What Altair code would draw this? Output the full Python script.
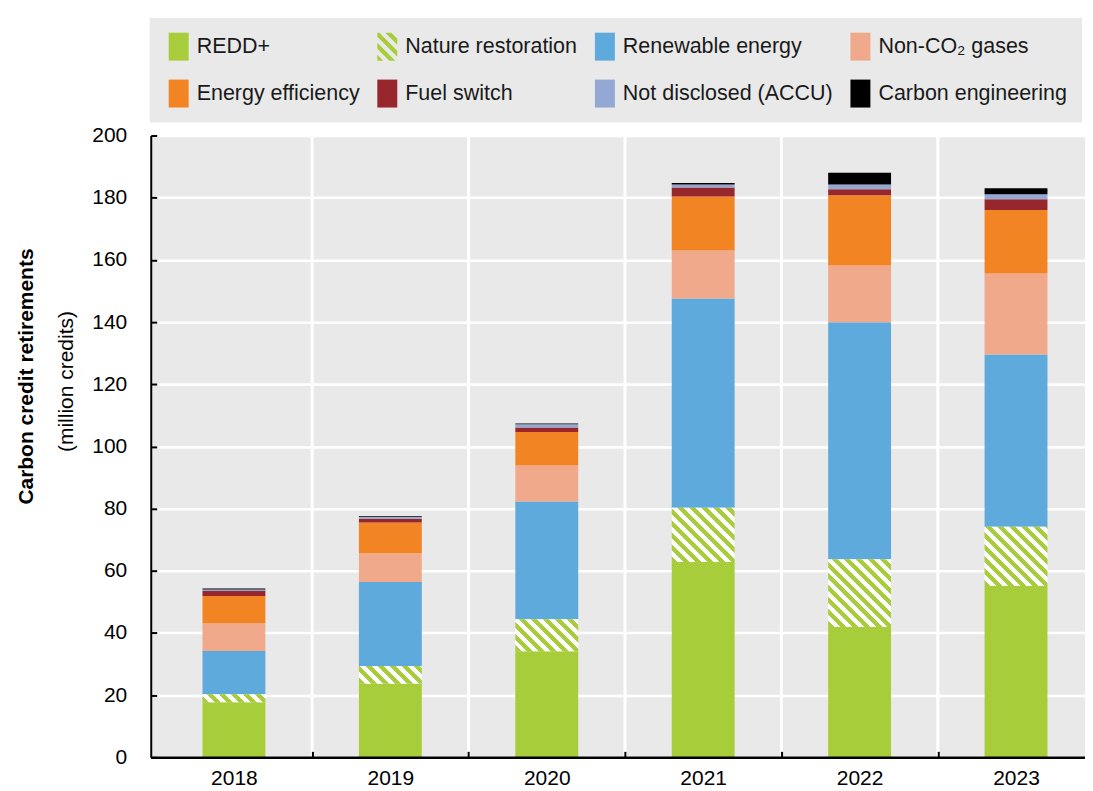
import altair as alt
import pandas as pd

# ---------------- data ----------------
years = [2018, 2019, 2020, 2021, 2022, 2023]
categories = ["REDD+", "Nature restoration", "Renewable energy", "Non-CO₂ gases",
              "Energy efficiency", "Fuel switch", "Not disclosed (ACCU)", "Carbon engineering"]
redd = [17.7, 23.7, 34.1, 62.8, 41.9, 55.1]
nature = [2.6, 5.7, 10.3, 17.5, 21.8, 19.1]
renewable = [13.9, 27.0, 37.9, 67.3, 76.2, 55.4]
non_co2 = [8.9, 9.2, 11.6, 15.4, 18.3, 26.0]
energy_eff = [8.8, 9.9, 10.7, 17.4, 22.6, 20.4]
fuel_switch = [1.6, 1.2, 1.5, 2.9, 1.9, 3.5]
not_disclosed = [0.5, 0.6, 1.0, 0.9, 1.5, 1.6]
carbon_eng = [0.3, 0.2, 0.3, 0.5, 3.8, 1.9]
boundaries = [2018.5, 2019.5, 2020.5, 2021.5, 2022.5]
y_ticks = [0, 20, 40, 60, 80, 100, 120, 140, 160, 180, 200]

series = [redd, nature, renewable, non_co2, energy_eff, fuel_switch, not_disclosed, carbon_eng]
rows = []
for i, yr in enumerate(years):
    base = 0.0
    for j, cat in enumerate(categories):
        v = series[j][i]
        rows.append(dict(year=yr, category=cat, order=j, value=v, y0=base, y1=base + v))
        base += v
df = pd.DataFrame(rows)

# ---------------- style ----------------
GREEN = "#a8cd3a"
colors = [GREEN, GREEN, "#5eaadd", "#f1a98b", "#f38423", "#98272d", "#93a8d2", "#000000"]
FONT = "Liberation Sans, Arial, sans-serif"
FS = 21
W, H = 936, 623
STEP = 158.4
BAR = 63
x_domain = [2017.5, 2017.5 + W / STEP]
xscale = alt.Scale(domain=x_domain, nice=False, zero=False)
yscale = alt.Scale(domain=[0, 200], nice=False)
cscale = alt.Scale(domain=categories, range=colors)
solid_cats = [c for k, c in enumerate(categories) if k != 1]
solid_cols = [c for k, c in enumerate(colors) if k != 1]
fscale = alt.Scale(domain=solid_cats, range=solid_cols)


def stripe_gradient(w, h, period=12.0, green_frac=0.5):
    L = w + h
    k = L / (w * w + h * h)
    stops = []
    pos, green = 0.0, True
    while pos < L - 1e-9:
        seg = period * (green_frac if green else 1 - green_frac)
        nxt = min(pos + seg, L)
        c = GREEN if green else "#ffffff"
        stops.append(alt.GradientStop(offset=round(pos / L, 5), color=c))
        stops.append(alt.GradientStop(offset=round(nxt / L, 5), color=c))
        pos, green = nxt, not green
    return alt.LinearGradient(gradient="linear", stops=stops,
                              x1=0, y1=1, x2=round(k * w, 5), y2=round(1 - k * h, 5))


def clip_half(poly, s, c):
    out = []
    n = len(poly)
    for i in range(n):
        P, Q = poly[i], poly[(i + 1) % n]
        fp = s * (P[0] - P[1]) - c
        fq = s * (Q[0] - Q[1]) - c
        if fp >= 0:
            out.append(P)
        if (fp >= 0) != (fq >= 0):
            t = fp / (fp - fq)
            out.append((P[0] + t * (Q[0] - P[0]), P[1] + t * (Q[1] - P[1])))
    return out


hw = 0.714
rect_path = f"M{-hw},-1H{hw}V1H{-hw}Z"
period_u = 12.0 / 14.0
parts = []
a = -hw - 1.0
while a < hw + 1.0:
    poly = [(-hw, -1.0), (hw, -1.0), (hw, 1.0), (-hw, 1.0)]
    poly = clip_half(poly, 1, a)
    poly = clip_half(poly, -1, -(a + period_u / 2))
    if len(poly) >= 3:
        parts.append("M" + "L".join(f"{p[0]:.3f},{p[1]:.3f}" for p in poly) + "Z")
    a += period_u
nature_path = "".join(parts)
shape_range = [rect_path, nature_path] + [rect_path] * 6

# ---------------- axes ----------------
x_label_axis = alt.Axis(orient="bottom", values=years, format="d", ticks=False, grid=False,
                        domain=True, domainColor="black", domainWidth=2.5, labelFlush=False,
                        labelOverlap=False, labelPadding=10, labelFontSize=FS, labelColor="black",
                        title=None, zindex=1)
x_tick_axis = alt.Axis(orient="bottom", values=boundaries, offset=-6, ticks=True, tickSize=6,
                       tickWidth=2, tickColor="black", domain=False, labels=False, grid=False,
                       title=None, zindex=1)
y_main_axis = alt.Axis(orient="left", values=y_ticks, ticks=False, grid=True, gridColor="white",
                       gridWidth=2.5, domain=True, domainColor="black", domainWidth=2,
                       labelPadding=24, labelFontSize=FS, labelColor="black",
                       title="(million credits)", titleFontWeight="normal", titleFontSize=FS,
                       titleColor="black", titleX=-84, titleY=246, titleBaseline="middle",
                       titleAlign="center", titleAngle=-90)
y_tick_axis = alt.Axis(orient="left", values=y_ticks, offset=-6, ticks=True, tickSize=6,
                       tickWidth=2, tickColor="black", domain=False, labels=False, grid=False,
                       title=None, zindex=1)
y_title_axis = alt.Axis(orient="left", domain=False, ticks=False, labels=False, grid=False,
                        title="Carbon credit retirements", titleFontWeight="bold",
                        titleFontSize=FS, titleColor="black", titleX=-124, titleY=241,
                        titleBaseline="middle", titleAlign="center", titleAngle=-90)

legend = alt.Legend(title=None, orient="none", legendX=-1, legendY=-118, columns=4,
                    direction="horizontal", fillColor="#e9e9e9", padding=15,
                    columnPadding=13, rowPadding=19, symbolSize=784, symbolStrokeWidth=0,
                    symbolOpacity=1, labelFontSize=21.5, labelColor="#1a1a1a",
                    labelOffset=4, labelLimit=400)

# ---------------- layers ----------------
grid_v = alt.Chart(pd.DataFrame({"b": boundaries})).mark_rule(color="white", strokeWidth=3).encode(
    x=alt.X("b:Q", scale=xscale, axis=x_tick_axis)
)

bars = alt.Chart(df).transform_filter("datum.order != 1").mark_bar(size=BAR).encode(
    x=alt.X("year:Q", scale=xscale, axis=x_label_axis),
    y=alt.Y("y0:Q", scale=yscale, axis=y_main_axis),
    y2="y1:Q",
    fill=alt.Fill("category:N", scale=fscale, legend=None),
)

nature_layers = []
for i, yr in enumerate(years):
    h_px = nature[i] * H / 200.0
    lay = alt.Chart(df).transform_filter(
        f"datum.year == {yr} && datum.order == 1"
    ).mark_bar(size=BAR, fill=stripe_gradient(BAR, h_px)).encode(
        x=alt.X("year:Q", scale=xscale, axis=None),
        y=alt.Y("y0:Q", scale=yscale, axis=(y_title_axis if i == 0 else None)),
        y2="y1:Q",
    )
    nature_layers.append(lay)

legend_pts = alt.Chart(df).transform_calculate(yy="-100").mark_point(
    filled=True, clip=True, opacity=1
).encode(
    x=alt.X("year:Q", scale=xscale, axis=None),
    y=alt.Y("yy:Q", scale=yscale, axis=y_tick_axis),
    color=alt.Color("category:N", scale=cscale, legend=legend),
    shape=alt.Shape("category:N", scale=alt.Scale(domain=categories, range=shape_range),
                    legend=legend),
)

chart = alt.layer(grid_v, bars, *nature_layers, legend_pts).resolve_axis(
    x="independent", y="independent"
).properties(
    width=W, height=H,
    padding={"left": 7, "top": 9, "right": 0, "bottom": 0},
    background="white",
).configure_view(
    fill="#e9e9e9", stroke="transparent"
).configure_axis(
    labelFont=FONT, titleFont=FONT
).configure_legend(
    labelFont=FONT
)

chart.save("out.html", embed_options={"renderer": "svg", "actions": False})
